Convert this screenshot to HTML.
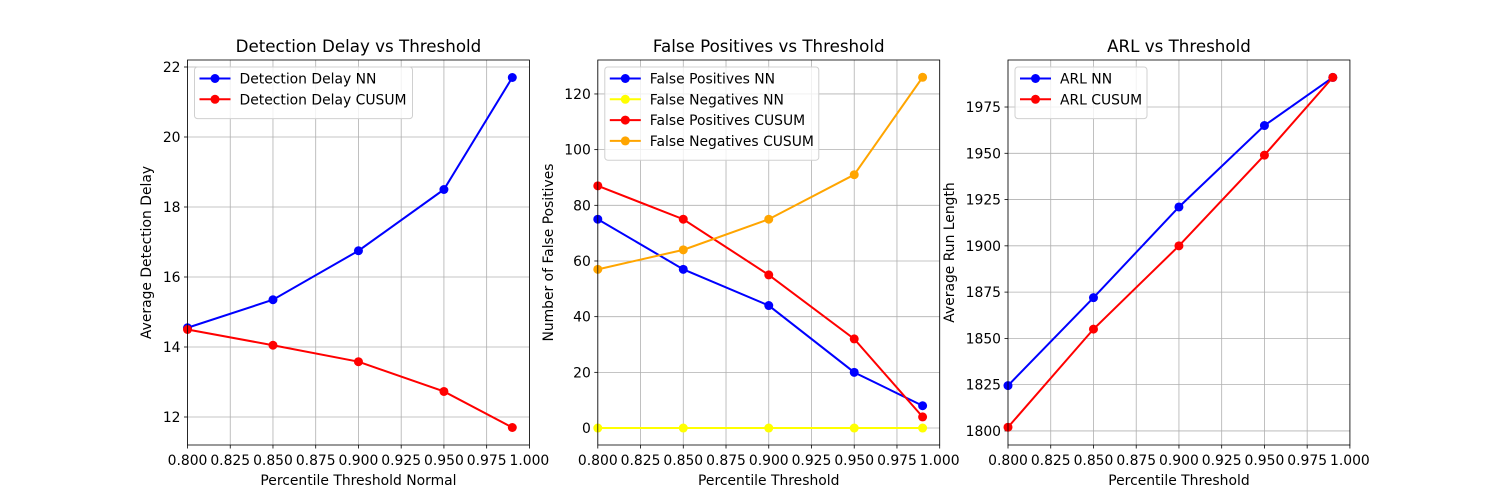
<!DOCTYPE html>
<html><head><meta charset="utf-8"><style>
body{margin:0;background:#fff;font-family:"DejaVu Sans","Liberation Sans",sans-serif;}
svg text{font-family:"DejaVu Sans","Liberation Sans",sans-serif;}
</style></head><body>
<svg id="fig" width="1500" height="500" xmlns="http://www.w3.org/2000/svg"></svg>
<script>
const xVals=[0.8,0.85,0.9,0.95,0.99];
const xTicks=[0.8,0.825,0.85,0.875,0.9,0.925,0.95,0.975,1.0];
const delayNN=[14.55,15.35,16.75,18.5,21.7];
const delayCUSUM=[14.5,14.05,13.58,12.73,11.7];
const delayTicks=[12,14,16,18,20,22];
const fpNN=[75,57,44,20,8];
const fnNN=[0,0,0,0,0];
const fpCUSUM=[87,75,55,32,4];
const fnCUSUM=[57,64,75,91,126];
const fpTicks=[0,20,40,60,80,100,120];
const arlNN=[1824.5,1872,1921,1965,1991];
const arlCUSUM=[1802,1855,1900,1949,1991];
const arlTicks=[1800,1825,1850,1875,1900,1925,1950,1975];

const NS="http://www.w3.org/2000/svg";
const svg=document.getElementById('fig');
function mk(tag,attrs,parent){const e=document.createElementNS(NS,tag);for(const k in attrs)e.setAttribute(k,attrs[k]);(parent||svg).appendChild(e);return e;}

const panels=[
 {x0:187.5,name:'delay',title:'Detection Delay vs Threshold',xlabel:'Percentile Threshold Normal',ylabel:'Average Detection Delay',ylx:146,ymin:11.2,ymax:22.2,yTicks:delayTicks,
  series:[{label:'Detection Delay NN',data:delayNN,color:'#0000ff'},{label:'Detection Delay CUSUM',data:delayCUSUM,color:'#ff0000'}],legW:218},
 {x0:597.8,name:'false-positives',title:'False Positives vs Threshold',xlabel:'Percentile Threshold',ylabel:'Number of False Positives',ylx:548,ymin:-6.1,ymax:132.2,yTicks:fpTicks,
  series:[{label:'False Positives NN',data:fpNN,color:'#0000ff'},{label:'False Negatives NN',data:fnNN,color:'#ffff00'},{label:'False Positives CUSUM',data:fpCUSUM,color:'#ff0000'},{label:'False Negatives CUSUM',data:fnCUSUM,color:'#ffa500'}],legW:214},
 {x0:1008,name:'arl',title:'ARL vs Threshold',xlabel:'Percentile Threshold',ylabel:'Average Run Length',ylx:949,ymin:1792.4,ymax:2000.4,yTicks:arlTicks,
  series:[{label:'ARL NN',data:arlNN,color:'#0000ff'},{label:'ARL CUSUM',data:arlCUSUM,color:'#ff0000'}],legW:132}
];
const W=341.9,T=60,B=445,FS=13.9;
panels.forEach(p=>{
 const g=mk('g',{});
 
 
 const sx=v=>p.x0+(v-0.8)/0.2*W;
 const sy=v=>B-(v-p.ymin)/(p.ymax-p.ymin)*(B-T);
 xTicks.forEach(t=>{const x=sx(t);
  mk('line',{x1:x,x2:x,y1:T,y2:B,stroke:'#b0b0b0','stroke-width':0.8},g);
  mk('line',{x1:x,x2:x,y1:B,y2:B+3.5,stroke:'#000','stroke-width':0.8},g);
  const tx=mk('text',{x:x,y:B+20,'text-anchor':'middle','font-size':FS},g);tx.textContent=t.toFixed(3);
 });
 p.yTicks.forEach(t=>{const y=sy(t);
  mk('line',{x1:p.x0,x2:p.x0+W,y1:y,y2:y,stroke:'#b0b0b0','stroke-width':0.8},g);
  mk('line',{x1:p.x0-3.5,x2:p.x0,y1:y,y2:y,stroke:'#000','stroke-width':0.8},g);
  const tx=mk('text',{x:p.x0-7,y:y+5,'text-anchor':'end','font-size':FS},g);tx.textContent=String(t);
 });
 p.series.forEach(s=>{
  const pl=mk('polyline',{points:s.data.map((v,i)=>sx(xVals[i])+','+sy(v)).join(' '),fill:'none',stroke:s.color,'stroke-width':2},g);
  
  
  s.data.forEach((v,i)=>{const c=mk('circle',{cx:sx(xVals[i]),cy:sy(v),r:4.5,fill:s.color},g);
   
   });
 });
 mk('rect',{x:p.x0,y:T,width:W,height:B-T,fill:'none',stroke:'#000','stroke-width':0.8},g);
 const ti=mk('text',{x:p.x0+W/2,y:T-8,'text-anchor':'middle','font-size':16.7},g);ti.textContent=p.title;
 const xl=mk('text',{x:p.x0+W/2,y:B+40,'text-anchor':'middle','font-size':FS},g);xl.textContent=p.xlabel;
 const yl=mk('text',{x:0,y:0,'text-anchor':'middle','font-size':FS,transform:`translate(${p.ylx+5},${(T+B)/2}) rotate(-90)`},g);yl.textContent=p.ylabel;
 const lg=mk('g',{},g);
 
 
 const lx=p.x0+7,ly=T+7,lh=10+p.series.length*20.8;
 mk('rect',{x:lx,y:ly,width:p.legW,height:lh,rx:3,fill:'#fff','fill-opacity':0.8,stroke:'#d0d0d0'},lg);
 p.series.forEach((s,i)=>{const y=ly+11.5+i*20.8;
  mk('line',{x1:lx+5,x2:lx+36,y1:y,y2:y,stroke:s.color,'stroke-width':2},lg);
  mk('circle',{cx:lx+20.5,cy:y,r:4.5,fill:s.color},lg);
  const t=mk('text',{x:lx+45,y:y+5,'font-size':FS},lg);t.textContent=s.label;
 });
});
</script>
</body></html>
